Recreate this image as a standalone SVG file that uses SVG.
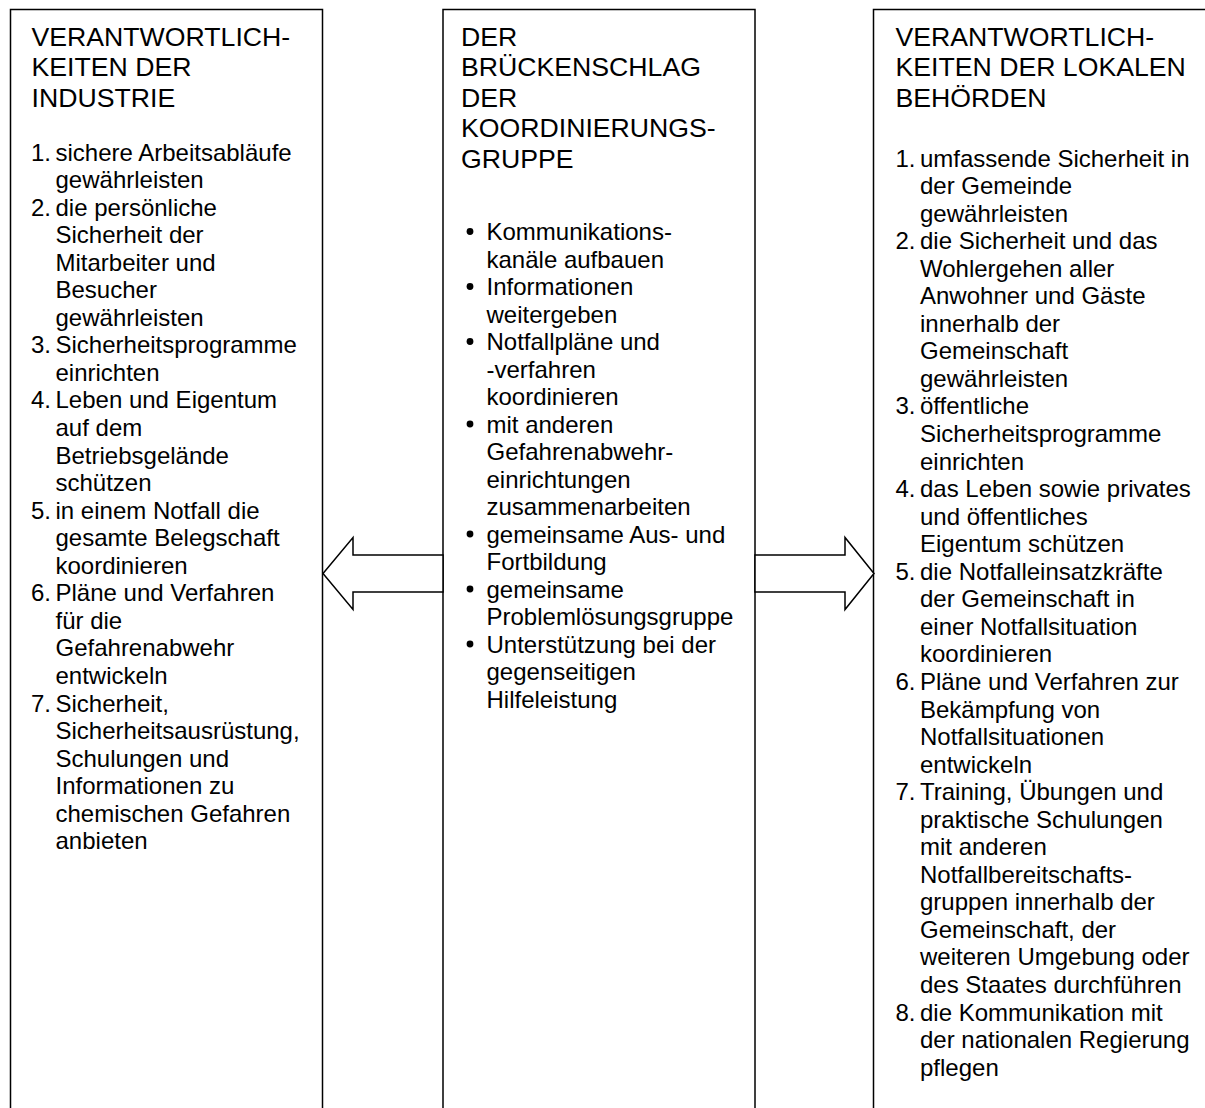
<svg xmlns="http://www.w3.org/2000/svg" width="1205" height="1108" viewBox="0 0 1205 1108">
<style>
.box{fill:#fff;stroke:#000;stroke-width:1.5}
.arrow{fill:#fff;stroke:#000;stroke-width:1.5;stroke-linejoin:miter}
.t{font-family:"Liberation Sans",Arial,sans-serif;font-size:26.67px;fill:#000}
.b{font-family:"Liberation Sans",Arial,sans-serif;font-size:24px;fill:#000}
.dot{fill:#000}
</style>
<rect width="1205" height="1108" fill="#fff"/>
<g id="node-industrie">
<rect class="box" x="10.5" y="9.5" width="312" height="1110"/>
<text class="t"><tspan x="31.5" y="45.5">VERANTWORTLICH-</tspan><tspan x="31.5" y="76.1">KEITEN DER</tspan><tspan x="31.5" y="106.7">INDUSTRIE</tspan></text>
<text class="b">
<tspan x="31" y="160.5">1.</tspan><tspan x="55.5" y="160.5">sichere Arbeitsabläufe</tspan>
<tspan x="55.5" y="188.05">gewährleisten</tspan>
<tspan x="31" y="215.6">2.</tspan><tspan x="55.5" y="215.6">die persönliche</tspan>
<tspan x="55.5" y="243.15">Sicherheit der</tspan>
<tspan x="55.5" y="270.7">Mitarbeiter und</tspan>
<tspan x="55.5" y="298.25">Besucher</tspan>
<tspan x="55.5" y="325.8">gewährleisten</tspan>
<tspan x="31" y="353.35">3.</tspan><tspan x="55.5" y="353.35">Sicherheitsprogramme</tspan>
<tspan x="55.5" y="380.9">einrichten</tspan>
<tspan x="31" y="408.45">4.</tspan><tspan x="55.5" y="408.45">Leben und Eigentum</tspan>
<tspan x="55.5" y="436">auf dem</tspan>
<tspan x="55.5" y="463.55">Betriebsgelände</tspan>
<tspan x="55.5" y="491.1">schützen</tspan>
<tspan x="31" y="518.65">5.</tspan><tspan x="55.5" y="518.65">in einem Notfall die</tspan>
<tspan x="55.5" y="546.2">gesamte Belegschaft</tspan>
<tspan x="55.5" y="573.75">koordinieren</tspan>
<tspan x="31" y="601.3">6.</tspan><tspan x="55.5" y="601.3">Pläne und Verfahren</tspan>
<tspan x="55.5" y="628.85">für die</tspan>
<tspan x="55.5" y="656.4">Gefahrenabwehr</tspan>
<tspan x="55.5" y="683.95">entwickeln</tspan>
<tspan x="31" y="711.5">7.</tspan><tspan x="55.5" y="711.5">Sicherheit,</tspan>
<tspan x="55.5" y="739.05">Sicherheitsausrüstung,</tspan>
<tspan x="55.5" y="766.6">Schulungen und</tspan>
<tspan x="55.5" y="794.15">Informationen zu</tspan>
<tspan x="55.5" y="821.7">chemischen Gefahren</tspan>
<tspan x="55.5" y="849.25">anbieten</tspan>
</text>
</g>
<g id="node-koordinierungsgruppe">
<rect class="box" x="443" y="9.5" width="312" height="1110"/>
<text class="t"><tspan x="461" y="45.5">DER</tspan><tspan x="461" y="76.1">BRÜCKENSCHLAG</tspan><tspan x="461" y="106.7">DER</tspan><tspan x="461" y="137.3">KOORDINIERUNGS-</tspan><tspan x="461" y="167.9">GRUPPE</tspan></text>
<circle class="dot" cx="470" cy="231.5" r="3.4"/>
<circle class="dot" cx="470" cy="286.5" r="3.4"/>
<circle class="dot" cx="470" cy="341.5" r="3.4"/>
<circle class="dot" cx="470" cy="424" r="3.4"/>
<circle class="dot" cx="470" cy="534" r="3.4"/>
<circle class="dot" cx="470" cy="589" r="3.4"/>
<circle class="dot" cx="470" cy="644" r="3.4"/>
<text class="b">
<tspan x="486.5" y="240">Kommunikations-</tspan>
<tspan x="486.5" y="267.5">kanäle aufbauen</tspan>
<tspan x="486.5" y="295">Informationen</tspan>
<tspan x="486.5" y="322.5">weitergeben</tspan>
<tspan x="486.5" y="350">Notfallpläne und</tspan>
<tspan x="486.5" y="377.5">-verfahren</tspan>
<tspan x="486.5" y="405">koordinieren</tspan>
<tspan x="486.5" y="432.5">mit anderen</tspan>
<tspan x="486.5" y="460">Gefahrenabwehr-</tspan>
<tspan x="486.5" y="487.5">einrichtungen</tspan>
<tspan x="486.5" y="515">zusammenarbeiten</tspan>
<tspan x="486.5" y="542.5">gemeinsame Aus- und</tspan>
<tspan x="486.5" y="570">Fortbildung</tspan>
<tspan x="486.5" y="597.5">gemeinsame</tspan>
<tspan x="486.5" y="625">Problemlösungsgruppe</tspan>
<tspan x="486.5" y="652.5">Unterstützung bei der</tspan>
<tspan x="486.5" y="680">gegenseitigen</tspan>
<tspan x="486.5" y="707.5">Hilfeleistung</tspan>
</text>
</g>
<g id="node-behoerden">
<rect class="box" x="873.5" y="9.5" width="340" height="1110"/>
<text class="t"><tspan x="895.5" y="45.5">VERANTWORTLICH-</tspan><tspan x="895.5" y="76.1">KEITEN DER LOKALEN</tspan><tspan x="895.5" y="106.7">BEHÖRDEN</tspan></text>
<text class="b">
<tspan x="895.5" y="166.5">1.</tspan><tspan x="920" y="166.5">umfassende Sicherheit in</tspan>
<tspan x="920" y="194.05">der Gemeinde</tspan>
<tspan x="920" y="221.6">gewährleisten</tspan>
<tspan x="895.5" y="249.15">2.</tspan><tspan x="920" y="249.15">die Sicherheit und das</tspan>
<tspan x="920" y="276.7">Wohlergehen aller</tspan>
<tspan x="920" y="304.25">Anwohner und Gäste</tspan>
<tspan x="920" y="331.8">innerhalb der</tspan>
<tspan x="920" y="359.35">Gemeinschaft</tspan>
<tspan x="920" y="386.9">gewährleisten</tspan>
<tspan x="895.5" y="414.45">3.</tspan><tspan x="920" y="414.45">öffentliche</tspan>
<tspan x="920" y="442">Sicherheitsprogramme</tspan>
<tspan x="920" y="469.55">einrichten</tspan>
<tspan x="895.5" y="497.1">4.</tspan><tspan x="920" y="497.1">das Leben sowie privates</tspan>
<tspan x="920" y="524.65">und öffentliches</tspan>
<tspan x="920" y="552.2">Eigentum schützen</tspan>
<tspan x="895.5" y="579.75">5.</tspan><tspan x="920" y="579.75">die Notfalleinsatzkräfte</tspan>
<tspan x="920" y="607.3">der Gemeinschaft in</tspan>
<tspan x="920" y="634.85">einer Notfallsituation</tspan>
<tspan x="920" y="662.4">koordinieren</tspan>
<tspan x="895.5" y="689.95">6.</tspan><tspan x="920" y="689.95">Pläne und Verfahren zur</tspan>
<tspan x="920" y="717.5">Bekämpfung von</tspan>
<tspan x="920" y="745.05">Notfallsituationen</tspan>
<tspan x="920" y="772.6">entwickeln</tspan>
<tspan x="895.5" y="800.15">7.</tspan><tspan x="920" y="800.15">Training, Übungen und</tspan>
<tspan x="920" y="827.7">praktische Schulungen</tspan>
<tspan x="920" y="855.25">mit anderen</tspan>
<tspan x="920" y="882.8">Notfallbereitschafts-</tspan>
<tspan x="920" y="910.35">gruppen innerhalb der</tspan>
<tspan x="920" y="937.9">Gemeinschaft, der</tspan>
<tspan x="920" y="965.45">weiteren Umgebung oder</tspan>
<tspan x="920" y="993">des Staates durchführen</tspan>
<tspan x="895.5" y="1020.55">8.</tspan><tspan x="920" y="1020.55">die Kommunikation mit</tspan>
<tspan x="920" y="1048.1">der nationalen Regierung</tspan>
<tspan x="920" y="1075.65">pflegen</tspan>
</text>
</g>
<g id="connectors">
<polygon class="arrow" points="443,555 353,555 353,537.5 323,573.5 353,609.5 353,592 443,592"/>
<polygon class="arrow" points="755,555 845,555 845,537.5 874,573.5 845,609.5 845,592 755,592"/>
</g>
</svg>
